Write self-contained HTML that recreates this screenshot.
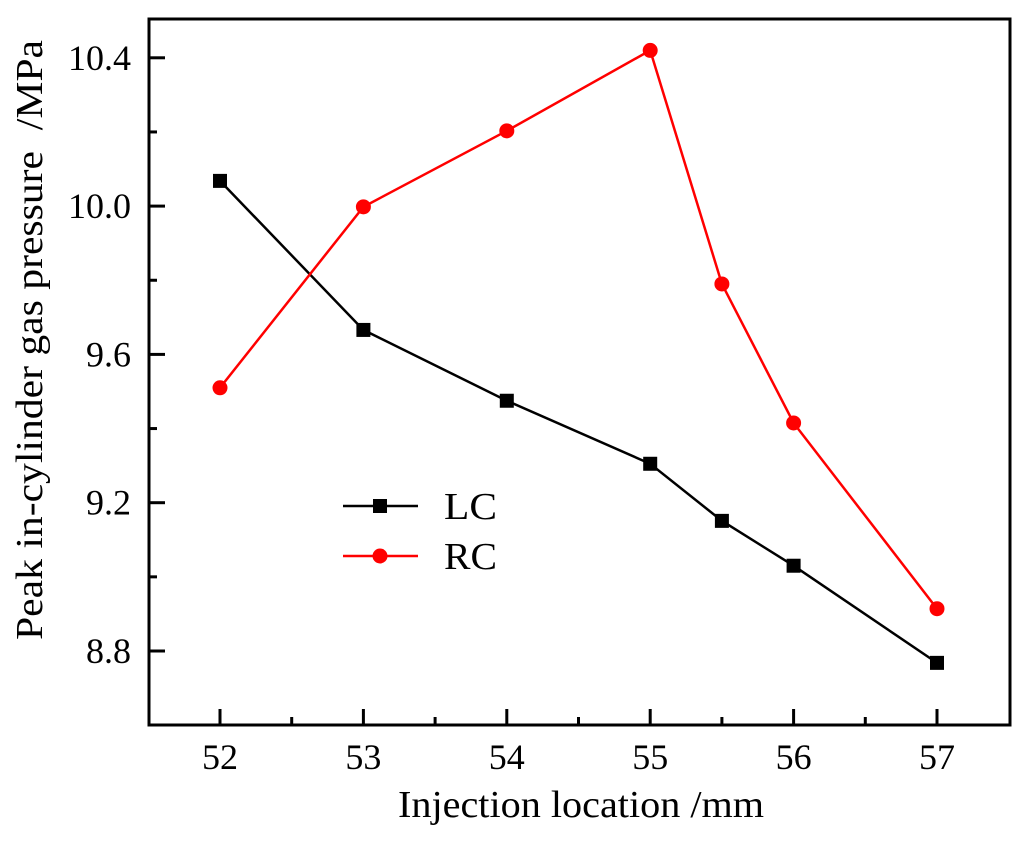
<!DOCTYPE html>
<html><head><meta charset="utf-8"><style>body{margin:0;background:#fff}svg{display:block}text{font-family:"Liberation Serif",serif}</style></head>
<body>
<svg id="c" width="1024" height="842">
<rect x="149" y="19" width="861" height="706" fill="none" stroke="#000" stroke-width="3"/>
<g id="ax"></g><g id="series"></g>
<text x="581" y="817" font-size="38" text-anchor="middle" textLength="366" lengthAdjust="spacingAndGlyphs">Injection location /mm</text>
<text transform="translate(42,340) rotate(-90)" font-size="38" text-anchor="middle" textLength="600" lengthAdjust="spacingAndGlyphs" xml:space="preserve">Peak in-cylinder gas pressure  /MPa</text>
<g>
<line x1="343" y1="506" x2="418" y2="506" stroke="#000" stroke-width="2.5"/><rect x="373" y="499" width="14" height="14" fill="#000"/>
<text x="444" y="519" font-size="38" textLength="53" lengthAdjust="spacingAndGlyphs">LC</text>
<line x1="343" y1="556" x2="418" y2="556" stroke="#f00" stroke-width="2.5"/><circle cx="380" cy="556" r="7.5" fill="#f00"/>
<text x="444" y="569" font-size="38" textLength="53" lengthAdjust="spacingAndGlyphs">RC</text>
</g>
</svg>
<script>
const xVals=[52,53,54,55,55.5,56,57];
const lcVals=[10.068,9.666,9.475,9.305,9.151,9.030,8.768];
const rcVals=[9.510,9.998,10.203,10.420,9.790,9.415,8.914];
const xTicks=[52,53,54,55,56,57];
const yTicks=[8.8,9.2,9.6,10.0,10.4];
const NS="http://www.w3.org/2000/svg";
const X=v=>220+(v-52)*143.4;
const Y=v=>651-(v-8.8)*370.75;
function mk(t,a,p){const e=document.createElementNS(NS,t);for(const k in a)e.setAttribute(k,a[k]);p.appendChild(e);return e;}
const ax=document.getElementById('ax'),sg=document.getElementById('series');
xTicks.forEach(v=>{mk('line',{x1:X(v),x2:X(v),y1:725,y2:709,stroke:'#000','stroke-width':3},ax);
const t=mk('text',{x:X(v),y:769,'font-size':36,'text-anchor':'middle'},ax);t.textContent=v;


if(v<57)mk('line',{x1:X(v+0.5),x2:X(v+0.5),y1:725,y2:717,stroke:'#000','stroke-width':3},ax);});
yTicks.forEach(v=>{mk('line',{x1:149,x2:165,y1:Y(v),y2:Y(v),stroke:'#000','stroke-width':3},ax);
mk('line',{x1:149,x2:157,y1:Y(v+0.2),y2:Y(v+0.2),stroke:'#000','stroke-width':3},ax);
const t=mk('text',{x:131,y:Y(v)+12,'font-size':36,'text-anchor':'end'},ax);t.textContent=v.toFixed(1);

});
function series(vals,col,sq,name){
const p=mk('polyline',{points:xVals.map((x,i)=>X(x)+','+Y(vals[i])).join(' '),fill:'none',stroke:col,'stroke-width':2.5},sg);


vals.forEach((v,i)=>{const m=sq?mk('rect',{x:X(xVals[i])-7,y:Y(v)-7,width:14,height:14,fill:col},sg):mk('circle',{cx:X(xVals[i]),cy:Y(v),r:7.5,fill:col},sg);

});}
series(lcVals,'#000',true,'lc');
series(rcVals,'#f00',false,'rc');
</script>
</body></html>
